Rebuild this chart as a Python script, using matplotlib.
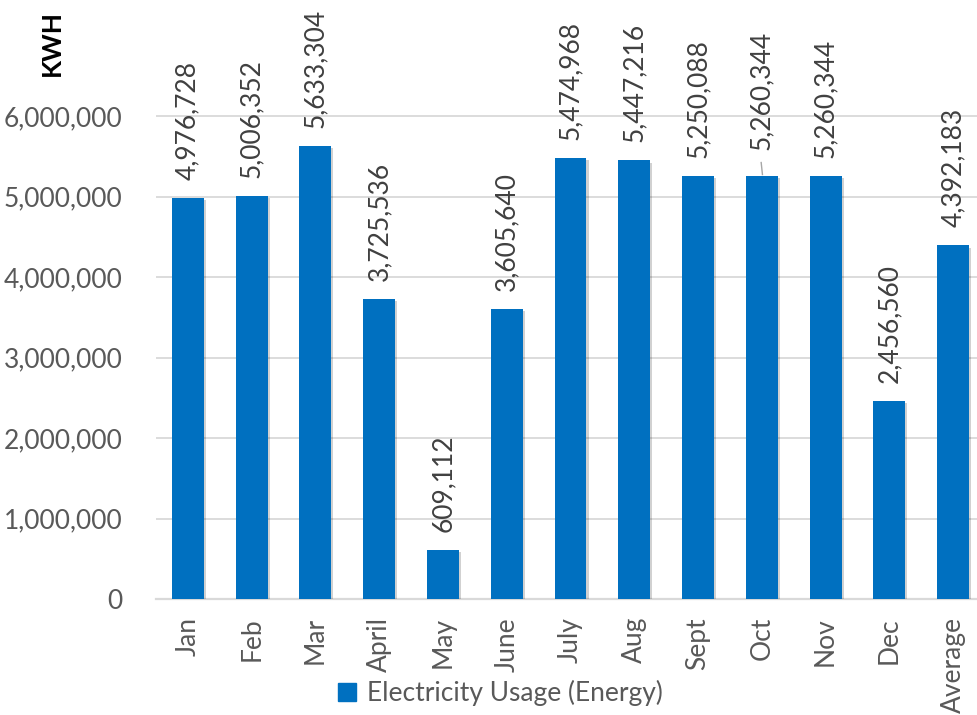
import matplotlib
matplotlib.use("Agg")
import matplotlib.pyplot as plt
import matplotlib.patheffects as pe
from matplotlib.ticker import FuncFormatter

categories = ["Jan", "Feb", "Mar", "April", "May", "June", "July", "Aug",
              "Sept", "Oct", "Nov", "Dec", "Average"]
values = [4976728, 5006352, 5633304, 3725536, 609112, 3605640, 5474968,
          5447216, 5250088, 5260344, 5260344, 2456560, 4392183]
yticks = [0, 1000000, 2000000, 3000000, 4000000, 5000000, 6000000]
series_name = "Electricity Usage (Energy)"

plt.rcParams['font.family'] = ['Lato', 'DejaVu Sans']
gray = "#595959"
blue = "#0070C0"

fig = plt.figure(figsize=(9.77, 7.15), dpi=100)
ax = fig.add_axes([156/977, 1 - 599/715, (985-156)/977, 599/715])
ymax = 599 / 80.5 * 1e6
ax.set_ylim(0, ymax)
x = list(range(len(categories)))
ax.set_xlim(-0.5, len(categories) - 0.5)

bars = ax.bar(x, values, width=0.5, color=blue, zorder=3)
for b in bars:
    b.set_path_effects([pe.SimplePatchShadow(offset=(1.5, -1.5), shadow_rgbFace="#000000", alpha=0.18), pe.Normal()])

ax.set_yticks(yticks)
ax.yaxis.set_major_formatter(FuncFormatter(lambda v, p: f"{int(v):,}"))
ax.grid(axis="y", color="#d9d9d9", linewidth=1.3, zorder=0)
ax.set_axisbelow(True)
for s in ["top", "right", "left"]:
    ax.spines[s].set_visible(False)
ax.spines["bottom"].set_color("#d9d9d9")
ax.spines["bottom"].set_linewidth(1.6)
ax.tick_params(axis="both", length=0, labelsize=19, labelcolor=gray)
ax.tick_params(axis="y", pad=24)
ax.tick_params(axis="x", pad=13)
ax.set_xticks(x)
ax.set_xticklabels(categories, rotation=90)

px = 1e6 / 80.5
for i, v in enumerate(values):
    off = 18 * px
    if categories[i] == "Oct":
        off = 26 * px
        ax.plot([i + 0.01, i - 0.01], [v + 1 * px, v + 13 * px], color="#a6a6a6", lw=1, zorder=4)
    ax.text(i, v + off, f"{v:,}", rotation=90, ha="center", va="bottom",
            fontsize=19, color="#404040", zorder=5)

fig.text(52/977, 1 - 10/715, "KWH", rotation=90, ha="center", va="top",
         fontsize=19, fontweight="bold", color="black")

handle = plt.Rectangle((0, 0), 1, 1, color=blue)
fig.legend([handle], [series_name], loc="center", bbox_to_anchor=(500/977, 1 - 693/715),
           frameon=False, fontsize=19, labelcolor=gray, handlelength=0.7, handleheight=0.7,
           handletextpad=0.4)

fig.savefig("out.png", dpi=100)
